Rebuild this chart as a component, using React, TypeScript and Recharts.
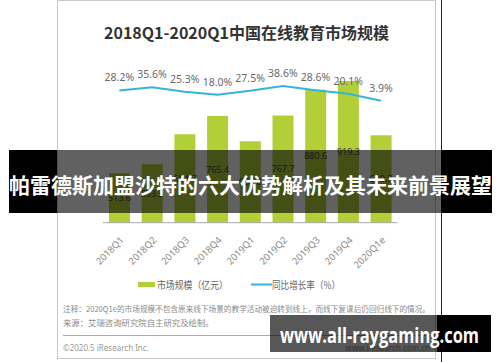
import React from "react";
import { ComposedChart, Bar, Line, XAxis, YAxis, LabelList } from "recharts";

const quarters = ["2018Q1", "2018Q2", "2018Q3", "2018Q4", "2019Q1", "2019Q2", "2019Q3", "2019Q4", "2020Q1e"];
// 市场规模（亿元）
const marketSize = [513.6, 553.5, 684.7, 765.4, 654.8, 767.7, 880.6, 919.3, 680.3];
// 同比增长率（%）
const growthRate = [28.2, 35.6, 25.3, 18.0, 27.5, 38.6, 28.6, 20.1, 3.9];

const data = quarters.map((q, i) => ({ q, size: marketSize[i], rate: growthRate[i] }));

const GREEN = "#b3cf38";
const BLUE = "#36b4d8";
const CJK = "'Noto Sans CJK SC', 'Noto Sans', sans-serif";

const QuarterTick = ({ x, y, payload }: any) => (
  <text
    x={x + 5}
    y={y + 18}
    transform={`rotate(-45, ${x + 5}, ${y + 18})`}
    textAnchor="end"
    fontSize={9.5}
    fill="#8a8a8a"
    fontFamily="'Noto Sans', sans-serif"
  >
    {payload.value}
  </text>
);

export default function App() {
  return (
    <div style={{ position: "absolute", left: 0, top: 0, width: 500, height: 362, background: "#fff", overflow: "hidden" }}>
      {/* card */}
      <div
        style={{
          position: "absolute", left: 57, top: 0, width: 377, height: 357,
          border: "1px solid #c9c9c9", background: "#fff",
        }}
      />
      <div style={{ position: "absolute", left: 440.5, top: 0, width: 1.5, height: 362, background: "#222" }} />

      <div style={{ position: "absolute", left: 0, top: 0 }}>
        <ComposedChart
          width={500}
          height={362}
          data={data}
          margin={{ top: 60, right: 102.7, left: 103, bottom: 0 }}
        >
          <XAxis
            dataKey="q"
            height={139.3}
            tickLine={false}
            tickSize={0}
            tickMargin={0}
            axisLine={{ stroke: "#a8a8a8" }}
            tick={<QuarterTick />}
            interval={0}
          />
          <YAxis yAxisId="size" hide domain={[296, 1012]} />
          <YAxis yAxisId="rate" hide orientation="right" domain={[-284, 100]} />
          <Bar yAxisId="size" dataKey="size" fill={GREEN} barSize={21} isAnimationActive={false}>
            <LabelList dataKey="size" position="center" fontSize={9} fill="#444" fontFamily="'Noto Sans', sans-serif" />
          </Bar>
          <Line
            yAxisId="rate"
            type="linear"
            dataKey="rate"
            stroke={BLUE}
            strokeWidth={2}
            dot={false}
            isAnimationActive={false}
          >
            <LabelList
              dataKey="rate"
              position="top"
              offset={9}
              fontSize={10.5}
              fill="#6a6a6a"
              fontFamily="'Noto Sans', sans-serif"
              formatter={(v: number) => `${v.toFixed(1)}%`}
            />
          </Line>
        </ComposedChart>
      </div>

      <svg width={500} height={362} style={{ position: "absolute", left: 0, top: 0 }}>
        <text x={246.5} y={38.5} textAnchor="middle" fontSize={16} fontWeight={700} fill="#333" fontFamily={CJK}>
          2018Q1-2020Q1中国在线教育市场规模
        </text>

        {/* legend */}
        <rect x={138} y={282} width={17} height={5} fill={GREEN} />
        <text x={157} y={289} fontSize={10} fill="#666" fontFamily={CJK} textLength={71} lengthAdjust="spacingAndGlyphs">
          市场规模（亿元）
        </text>
        <line x1={251} x2={272} y1={284.5} y2={284.5} stroke={BLUE} strokeWidth={2} />
        <text x={272} y={289} fontSize={10} fill="#666" fontFamily={CJK} textLength={68} lengthAdjust="spacingAndGlyphs">
          同比增长率（%）
        </text>

        {/* notes */}
        <text x={63} y={312} fontSize={8} fill="#8a8a8a" fontFamily={CJK} textLength={367} lengthAdjust="spacingAndGlyphs">
          注释：2020Q1e的市场规模不包含原来线下场景的教学活动被迫转到线上，而线下复课后仍回归线下的情况。
        </text>
        <text x={63} y={326} fontSize={8.4} fill="#8a8a8a" fontFamily={CJK}>
          来源：艾瑞咨询研究院自主研究及绘制。
        </text>
        <line x1={63} x2={430} y1={335.5} y2={335.5} stroke="#aaa" strokeWidth={1} />
        <text x={63} y={351} fontSize={8} fill="#999" fontFamily="'Noto Sans', sans-serif">
          ©2020.5 iResearch Inc.
        </text>
        <text x={430} y={351} textAnchor="end" fontSize={8} fill="#999" fontFamily="'Noto Sans', sans-serif">
          www.iresearch.com.cn
        </text>

        {/* title banner */}
        <rect x={9} y={150} width={48} height={63} fill="#000" />
        <rect x={57} y={150} width={384} height={63} fill="rgba(0,0,0,0.62)" />
        <rect x={441} y={150} width={51} height={63} fill="#000" />
        <text
          x={250.5} y={193} textAnchor="middle" fontSize={21} fontWeight={700} fill="#fff"
          fontFamily={CJK} textLength={483} lengthAdjust="spacingAndGlyphs"
        >
          帕雷德斯加盟沙特的六大优势解析及其未来前景展望
        </text>

        {/* watermark */}
        <rect x={270} y={315} width={167} height={37} fill="rgba(0,0,0,0.66)" />
        <rect x={437} y={315} width={54} height={37} fill="#000" />
        <text
          x={379.5} y={343} textAnchor="middle" fontSize={21} fontWeight={700} fill="#fff"
          fontFamily="'Open Sans', sans-serif" textLength={199} lengthAdjust="spacingAndGlyphs"
        >
          www.all-raygaming.com
        </text>
      </svg>
    </div>
  );
}
